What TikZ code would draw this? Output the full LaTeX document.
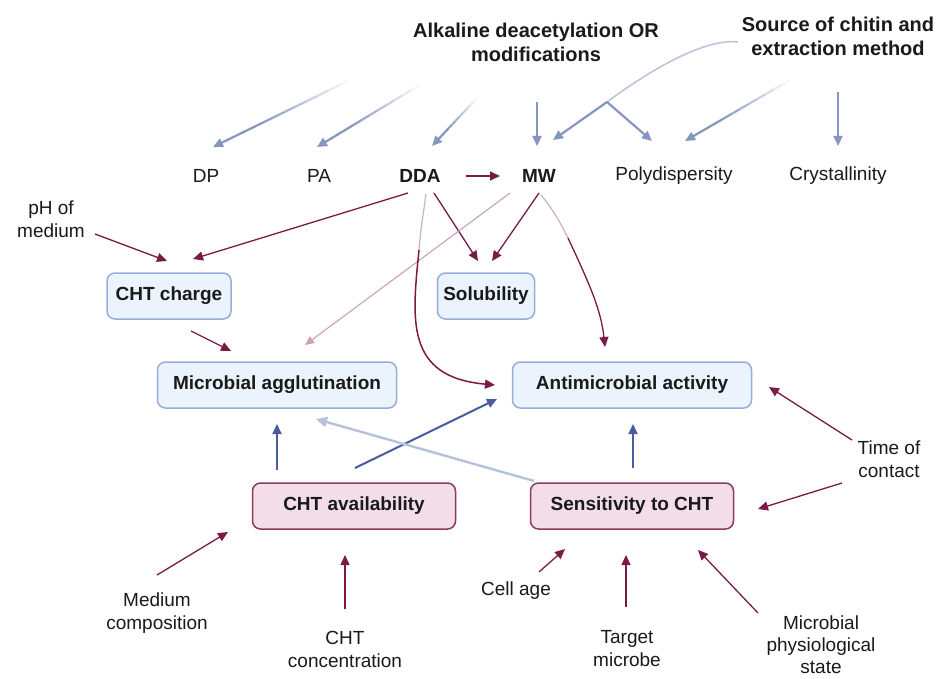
\documentclass[tikz,border=0pt]{standalone}
\usepackage{fontspec}
\setmainfont{Liberation Sans}
\usetikzlibrary{arrows.meta,calc}
\definecolor{grayblue}{HTML}{8796BE}
\definecolor{maroon}{HTML}{7A1B47}
\definecolor{navy}{HTML}{4A5C9E}
\definecolor{lightnavy}{HTML}{B6C1DE}
\definecolor{pinkline}{HTML}{C9A0B4}
\definecolor{boxblue}{HTML}{EBF3FC}
\definecolor{boxblueline}{HTML}{97AEDA}
\definecolor{boxpink}{HTML}{F3DDE8}
\definecolor{boxpinkline}{HTML}{8C3A60}
\definecolor{txt}{HTML}{1A1A1A}
\newcommand{\fadearrow}[3][]{%
  \foreach \ii in {0,...,7}{%
    \pgfmathsetmacro\fs{\ii*0.08}%
    \pgfmathsetmacro\fe{(\ii+1)*0.08}%
    \pgfmathsetmacro\fo{0.08+\ii*0.12}%
    \draw[#1, draw opacity=\fo] ($(#2)!\fs!(#3)$) -- ($(#2)!\fe!(#3)$);
  }%
  \draw[#1,-{Triangle[length=10pt,width=9pt]}] ($(#2)!0.64!(#3)$) -- (#3);
}
\begin{document}
\begin{tikzpicture}[x=1pt,y=-1pt,
  lbl/.style={font=\fontsize{19}{23}\selectfont, text=txt, align=center, inner sep=0pt},
  blbl/.style={lbl, font=\fontsize{19}{23}\selectfont\bfseries},
  ttl/.style={font=\fontsize{20}{24}\selectfont\bfseries, text=txt, align=center, inner sep=0pt},
  bbox/.style={draw=boxblueline, fill=boxblue, rounded corners=8pt, line width=1.5pt,
     font=\fontsize{19}{22}\selectfont\bfseries, text=txt, minimum height=46pt, inner sep=0pt},
  pbox/.style={bbox, draw=boxpinkline, fill=boxpink},
  gline/.style={draw=grayblue, line width=2.2pt},
  rarr/.style={draw=maroon, line width=1.3pt, -{Triangle[length=10pt,width=9pt]}},
  parr/.style={draw=pinkline, line width=1.1pt, -{Triangle[length=9pt,width=8pt]}},
  barr/.style={draw=navy, line width=2pt, -{Triangle[length=10pt,width=9pt]}},
  lbarr/.style={draw=lightnavy, line width=2.4pt, -{Triangle[length=11pt,width=10pt]}}
]
\useasboundingbox (0,0) rectangle (939,679);
\fill[white] (0,0) rectangle (939,679);

% titles
\node[ttl] (alk) at (536,42) {Alkaline deacetylation OR\\modifications};
\node[ttl] (src) at (838,36) {Source of chitin and\\extraction method};

% properties row
\node[lbl] (dp) at (206,176) {DP};
\node[lbl] (pa) at (319,176) {PA};
\node[blbl] (dda) at (420,176) {DDA};
\node[blbl] (mw) at (539,176) {MW};
\node[lbl] (poly) at (674,176) {Polydispersity};
\node[lbl] (cry) at (838,176) {Crystallinity};

% boxes
\node[bbox, minimum width=124pt] (charge) at (169,296) {CHT charge};
\node[bbox, minimum width=97pt] (sol) at (486,296) {Solubility};
\node[bbox, minimum width=239pt] (agg) at (277,385) {Microbial agglutination};
\node[bbox, minimum width=239pt] (anti) at (632,385) {Antimicrobial activity};
\node[pbox, minimum width=203pt] (avail) at (354,506) {CHT availability};
\node[pbox, minimum width=203pt] (sens) at (632,506) {Sensitivity to CHT};

% side/bottom labels
\node[lbl] (ph) at (51,219) {pH of\\medium};
\node[lbl] (time) at (889,459) {Time of\\contact};
\node[lbl] (medc) at (157,613) {Medium\\composition};
\node[lbl] (conc) at (345,649) {CHT\\concentration};
\node[lbl] (age) at (516,591) {Cell age};
\node[lbl] (targ) at (627,649) {Target\\microbe};
\node[lbl, font=\fontsize{19}{22}\selectfont] (phys) at (821,645) {Microbial\\physiological\\state};

% coordinates for free ends
\coordinate (dpS) at (350,80);   \coordinate (dpE) at (213,147);
\coordinate (paS) at (418,86);   \coordinate (paE) at (317,147);
\coordinate (ddS) at (477,98);   \coordinate (ddE) at (432,146);
\coordinate (mwS) at (537,102);  \coordinate (mwE) at (537,146);
\coordinate (cuS) at (738,42);   \coordinate (cuM) at (607,102); \coordinate (cuE) at (553,140);
\coordinate (poE) at (652,141);
\coordinate (spS) at (790,80);   \coordinate (spE) at (685,141);
\coordinate (crS) at (838,92);   \coordinate (crE) at (838,146);

% top gray-blue arrows (faded starts)
\fadearrow[gline]{dpS}{dpE}
\fadearrow[gline]{paS}{paE}
\fadearrow[gline]{ddS}{ddE}
\draw[gline, -{Triangle[length=10pt,width=9pt]}] (mwS) -- (mwE);
\draw[draw=grayblue!55, line width=1.6pt] (cuS) .. controls (705,38) and (650,70) .. (cuM);
\draw[gline, -{Triangle[length=10pt,width=9pt]}] (cuM) -- (cuE);
\draw[gline, -{Triangle[length=10pt,width=9pt]}] (cuM) -- (poE);
\fadearrow[gline]{spS}{spE}
\draw[gline, -{Triangle[length=10pt,width=9pt]}] (crS) -- (crE);

% maroon arrows
\coordinate (d1) at (466,176); \coordinate (m1) at (500,176);
\draw[rarr] (d1) -- (m1);
\coordinate (phS) at (95,234); \coordinate (phE) at (167,261);
\draw[rarr] (phS) -- (phE);
\coordinate (dcS) at (408,193); \coordinate (dcE) at (193,259);
\draw[rarr] (dcS) -- (dcE);
\coordinate (dsS) at (434,193); \coordinate (dsE) at (478,261);
\draw[rarr] (dsS) -- (dsE);
\coordinate (msS) at (539,193); \coordinate (msE) at (492,261);
\draw[rarr] (msS) -- (msE);
\coordinate (maS) at (510,193); \coordinate (maE) at (305,345);
\draw[parr] (maS) -- (maE);
\coordinate (mtS) at (541,195); \coordinate (mtE) at (605,347);
\draw[draw=maroon!35, line width=1.2pt] (mtS) .. controls (552,208) and (560,222) .. (568,238);
\draw[rarr] (568,238) .. controls (590,285) and (601,310) .. (mtE);
\coordinate (dtS) at (426,194); \coordinate (dtE) at (495,385);
\draw[draw=maroon!35, line width=1.2pt] (dtS) .. controls (424,210) and (421,225) .. (419,250);
\draw[rarr, line width=1.5pt] (419,250) .. controls (412,320) and (405,377) .. (dtE);
\coordinate (caS) at (191,331); \coordinate (caE) at (231,351);
\draw[rarr] (caS) -- (caE);
\coordinate (taS) at (852,440); \coordinate (taE) at (769,387);
\draw[rarr] (taS) -- (taE);
\coordinate (tsS) at (842,483); \coordinate (tsE) at (758,509);
\draw[rarr] (tsS) -- (tsE);

% blue arrows
\coordinate (vaS) at (277,470); \coordinate (vaE) at (277,424);
\draw[barr] (vaS) -- (vaE);
\coordinate (vtS) at (355,468); \coordinate (vtE) at (497,399);
\draw[barr] (vtS) -- (vtE);
\coordinate (saS) at (534,481); \coordinate (saE) at (316,419);
\draw[lbarr] (saS) -- (saE);
\coordinate (stS) at (633,468); \coordinate (stE) at (633,424);
\draw[barr] (stS) -- (stE);

% bottom maroon arrows
\coordinate (mcS) at (157,575); \coordinate (mcE) at (228,532);
\draw[rarr] (mcS) -- (mcE);
\coordinate (ccS) at (345,609); \coordinate (ccE) at (345,555);
\draw[rarr] (ccS) -- (ccE);
\coordinate (agS) at (539,572); \coordinate (agE) at (565,549);
\draw[rarr] (agS) -- (agE);
\coordinate (tgS) at (626,607); \coordinate (tgE) at (626,555);
\draw[rarr] (tgS) -- (tgE);
\coordinate (psS) at (758,613); \coordinate (psE) at (698,550);
\draw[rarr] (psS) -- (psE);
\end{tikzpicture}
\end{document}
